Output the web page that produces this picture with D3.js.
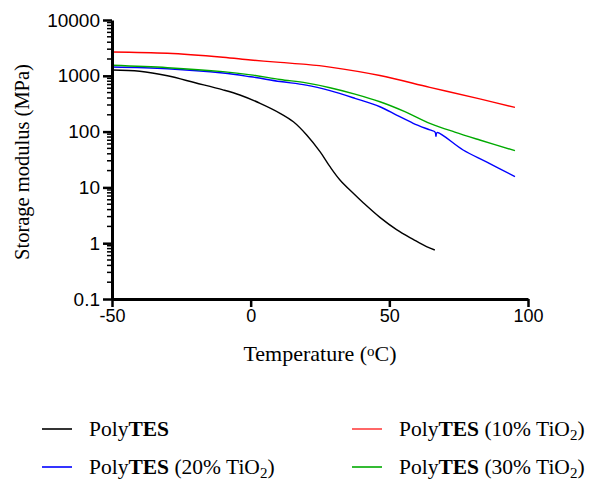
<!DOCTYPE html>
<html>
<head>
<meta charset="utf-8">
<script src="https://cdn.jsdelivr.net/npm/d3@7"></script>
<style>
  body { margin: 0; background: #fff; }
</style>
</head>
<body>
<div id="chart"></div>
<script>
// Storage modulus (MPa) vs temperature (°C)
const polyTES_T = [-50, -40, -30, -20, -10, -3.9, 3.4, 10.6, 15.4, 20.2, 25, 28.6, 32.2, 37, 40.6, 46.6, 52.6, 58.6, 63.4, 66.4];
const polyTES_E = [1270, 1210, 1000, 750, 560, 453, 321, 213, 150, 87, 43.7, 23.5, 13.6, 7.84, 5.3, 2.9, 1.75, 1.17, 0.866, 0.755];

const tio2_10_T = [-50, -30, -10, 0, 10.6, 20, 28.6, 46.6, 64.6, 82.6, 95.3];
const tio2_10_E = [2670, 2530, 2146, 1919, 1740, 1600, 1430, 1010, 620, 385, 272];

const tio2_20_T = [-50, -30, -10, 0, 10.6, 20, 28.6, 37.6, 46.6, 52.6, 58.6, 64.6, 66.5, 66.8, 67.2, 76.6, 85, 95.3];
const tio2_20_E = [1438, 1340, 1122, 960, 790, 680, 541, 395, 279, 198, 141, 107, 98, 82, 96, 46.8, 28.6, 15.6];

const tio2_30_T = [-50, -30, -10, 0, 10.6, 20, 28.6, 37.6, 46.6, 55.6, 64.6, 73.6, 82.6, 95.3];
const tio2_30_E = [1541, 1397, 1186, 1040, 860, 745, 612, 470, 343, 228, 141, 98, 70.7, 45.5];

const xTicks = [-50, 0, 50, 100];
const yTicks = [0.1, 1, 10, 100, 1000, 10000];

const seriesNames = ['PolyTES', 'PolyTES (10% TiO2)', 'PolyTES (20% TiO2)', 'PolyTES (30% TiO2)'];
const seriesColors = ['#000000', '#ff0000', '#0000ff', '#00aa00'];

const width = 596;
const height = 479;

const svg = d3.select('#chart')
  .append('svg')
  .attr('width', width)
  .attr('height', height);

const x = d3.scaleLinear().domain([-50, 100]).range([112, 528]);
const y = d3.scaleLog().domain([0.1, 10000]).range([299, 20]);

// Data lines
const series = [
  { T: polyTES_T, E: polyTES_E },
  { T: tio2_10_T, E: tio2_10_E },
  { T: tio2_20_T, E: tio2_20_E },
  { T: tio2_30_T, E: tio2_30_E }
];

const line = d3.line()
  .x(d => x(d[0]))
  .y(d => y(d[1]))
  .curve(d3.curveCatmullRom.alpha(0.5));

series.forEach((s, i) => {
  svg.append('path')
    .datum(s.T.map((t, k) => [t, s.E[k]]))
    .attr('fill', 'none')
    .attr('stroke', seriesColors[i])
    .attr('stroke-width', 1.4)
    .attr('d', line);
});

// Y axis (log, with minor ticks)
const minorTicks = y.ticks().filter(v => !yTicks.some(m => Math.abs(m - v) / m < 1e-9));

const yAxisG = svg.append('g').attr('transform', 'translate(112,0)');
yAxisG.selectAll('.minor')
  .data(minorTicks)
  .enter()
  .append('line')
  .attr('x1', -5)
  .attr('x2', 0)
  .attr('y1', d => y(d))
  .attr('y2', d => y(d))
  .attr('stroke', '#000')
  .attr('stroke-width', 1.5);

yAxisG.call(d3.axisLeft(y)
    .tickValues(yTicks)
    .tickSize(9)
    .tickSizeOuter(0)
    .tickPadding(3)
    .tickFormat(d => String(d)))
  .call(g => g.select('.domain').attr('stroke-width', 3))
  .call(g => g.selectAll('.tick line').attr('stroke-width', 2.5))
  .call(g => g.selectAll('.tick text')
    .attr('font-family', 'Liberation Sans, Arial, sans-serif')
    .attr('font-size', '19px')
    .attr('fill', '#000'));

// X axis (plain hyphen for negatives, like the original)
svg.append('g')
  .attr('transform', 'translate(0,299)')
  .call(d3.axisBottom(x)
    .tickValues(xTicks)
    .tickSize(8)
    .tickSizeOuter(0)
    .tickPadding(2)
    .tickFormat(d => String(d)))
  .call(g => g.select('.domain').attr('stroke-width', 3))
  .call(g => g.selectAll('.tick line').attr('stroke-width', 2.5))
  .call(g => g.selectAll('.tick text')
    .attr('font-family', 'Liberation Sans, Arial, sans-serif')
    .attr('font-size', '18px')
    .attr('fill', '#000'));

// Axis titles
svg.append('text')
  .attr('transform', 'translate(29,162) rotate(-90)')
  .attr('text-anchor', 'middle')
  .attr('font-family', 'Liberation Serif, Times New Roman, serif')
  .attr('font-size', '20.5px')
  .text('Storage modulus (MPa)');

const xTitle = svg.append('text')
  .attr('x', 320)
  .attr('y', 361)
  .attr('text-anchor', 'middle')
  .attr('font-family', 'Liberation Serif, Times New Roman, serif')
  .attr('font-size', '22px');
xTitle.append('tspan').text('Temperature (');
xTitle.append('tspan').attr('baseline-shift', '35%').attr('font-size', '15px').text('o');
xTitle.append('tspan').text('C)');

// Legend: two columns, two rows
const legendPos = [[42, 429], [352, 429], [42, 467], [352, 467]];

seriesNames.forEach((name, si) => {
  const [lx, ly] = legendPos[si];
  const g = svg.append('g');
  g.append('line')
    .attr('x1', lx)
    .attr('x2', lx + 30)
    .attr('y1', ly)
    .attr('y2', ly)
    .attr('stroke', si === 1 ? '#ff4040' : seriesColors[si])
    .attr('stroke-width', 1.6);

  const t = g.append('text')
    .attr('x', lx + 47)
    .attr('y', ly + 7)
    .attr('font-family', 'Liberation Serif, Times New Roman, serif')
    .attr('font-size', '21.5px')
    .attr('fill', '#000');
  t.append('tspan').text('Poly');
  t.append('tspan').attr('font-weight', 'bold').text('TES');
  const m = name.match(/\((\d+)% TiO2\)/);
  if (m) {
    t.append('tspan').text(` (${m[1]}% TiO`);
    t.append('tspan').attr('baseline-shift', '-25%').attr('font-size', '15px').text('2');
    t.append('tspan').text(')');
  }
});
</script>
</body>
</html>
